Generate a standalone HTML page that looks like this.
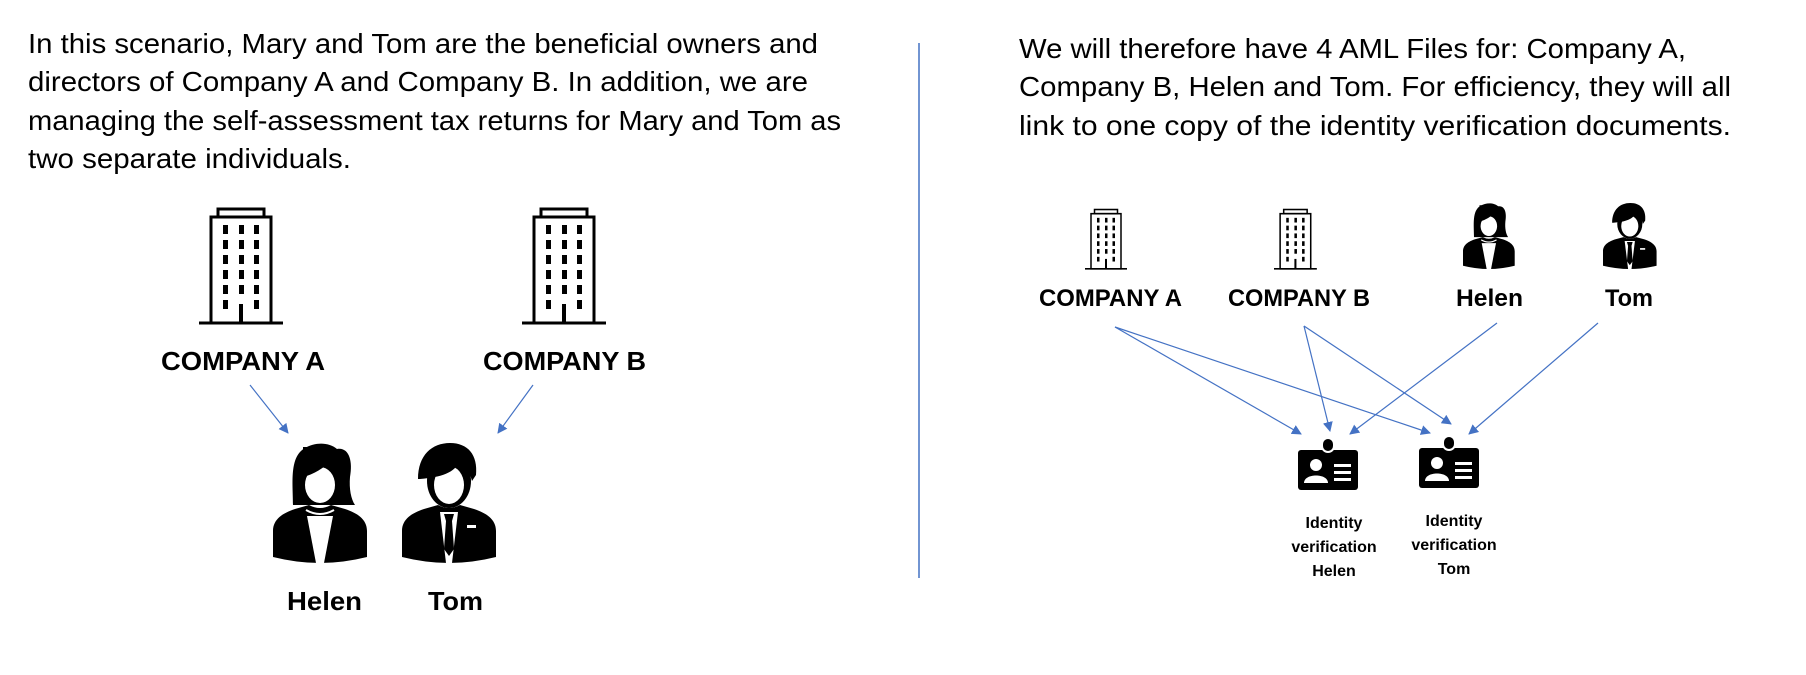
<!DOCTYPE html>
<html><head><meta charset="utf-8"><style>html,body{margin:0;padding:0;background:#fff}svg{display:block}</style></head>
<body>
<svg width="1806" height="675" viewBox="0 0 1806 675" xmlns="http://www.w3.org/2000/svg" xmlns:xlink="http://www.w3.org/1999/xlink" font-family="Liberation Sans, sans-serif">
<defs>
<marker id="ah" markerWidth="10" markerHeight="10" refX="9" refY="5" orient="auto" markerUnits="userSpaceOnUse">
<path d="M0,0 L10,5 L0,10 Z" fill="#4472C4"/>
</marker>
<g id="bld">
<rect x="19" y="1" width="46" height="8" fill="none" stroke="#000" stroke-width="3"/>
<rect x="12" y="9" width="60" height="106" fill="none" stroke="#000" stroke-width="3"/>
<line x1="0" y1="115" x2="84" y2="115" stroke="#000" stroke-width="3"/>
<g fill="#000">
<rect x="24" y="17" width="5" height="9"/><rect x="40" y="17" width="5" height="9"/><rect x="55" y="17" width="5" height="9"/>
<rect x="24" y="32" width="5" height="9"/><rect x="40" y="32" width="5" height="9"/><rect x="55" y="32" width="5" height="9"/>
<rect x="24" y="47" width="5" height="9"/><rect x="40" y="47" width="5" height="9"/><rect x="55" y="47" width="5" height="9"/>
<rect x="24" y="62" width="5" height="9"/><rect x="40" y="62" width="5" height="9"/><rect x="55" y="62" width="5" height="9"/>
<rect x="24" y="77" width="5" height="9"/><rect x="40" y="77" width="5" height="9"/><rect x="55" y="77" width="5" height="9"/>
<rect x="24" y="92" width="5" height="9"/><rect x="55" y="92" width="5" height="9"/>
<rect x="40" y="96" width="4" height="19"/>
</g>
</g>
<g id="helen">
<path d="M20,62 C20,40 16,14 32,5 C42,-1 56,-1 64,6 C76,4 80,18 77,34 C76,46 78,56 82,62 Z" fill="#000"/>
<ellipse cx="47" cy="42" rx="15" ry="18" fill="#fff"/>
<path d="M30,34 Q46,30 60,16 L60,4 L30,4 Z" fill="#000"/>
<path d="M0,114 L0,88 C0,76 10,70 22,66 L36,62 Q47,68 58,62 L72,66 C84,70 94,76 94,88 L94,114 Q70,120 47,120 Q24,120 0,114 Z" fill="#000"/>
<path d="M34,73 L60,73 L51,120 L43,120 Z" fill="#fff"/>
<path d="M33,67 Q47,75 61,67" fill="none" stroke="#fff" stroke-width="2"/>
</g>
<g id="tom">
<ellipse cx="47" cy="38" rx="22" ry="27" fill="#000"/>
<ellipse cx="47" cy="42" rx="15" ry="19" fill="#fff"/>
<path d="M16,36 C16,12 30,0 48,0 C66,0 76,12 74,32 L70,38 C67,26 62,22 58,18 C52,30 40,34 18,36 Z" fill="#000"/>
<path d="M0,114 L0,88 C0,76 10,70 22,66 L36,62 Q47,68 58,62 L72,66 C84,70 94,76 94,88 L94,114 Q70,120 47,120 Q24,120 0,114 Z" fill="#000"/>
<path d="M38,69 L56,69 L50,120 L44,120 Z" fill="#fff"/>
<path d="M42,71 L52,71 L50,78 L52,106 L47,113 L42,106 L44,78 Z" fill="#000"/>
<rect x="65" y="82" width="9" height="3" fill="#fff"/>
</g>
<g id="card">
<rect x="0" y="2" width="60" height="40" rx="3" fill="#000"/>
<rect x="24" y="-10" width="12" height="14" rx="6" fill="#000" stroke="#fff" stroke-width="2"/>
<circle cx="18" cy="17" r="6" fill="#fff"/>
<path d="M6,35 C6,25 30,25 30,35 Z" fill="#fff"/>
<rect x="36" y="16" width="17" height="3" fill="#fff"/>
<rect x="36" y="23" width="17" height="3" fill="#fff"/>
<rect x="36" y="30" width="17" height="3" fill="#fff"/>
</g>
</defs>

<g font-size="28" fill="#000">
<text x="28" y="53" textLength="790" lengthAdjust="spacingAndGlyphs">In this scenario, Mary and Tom are the beneficial owners and</text>
<text x="28" y="91" textLength="780" lengthAdjust="spacingAndGlyphs">directors of Company A and Company B.  In addition, we are</text>
<text x="28" y="130" textLength="813" lengthAdjust="spacingAndGlyphs">managing the self-assessment tax returns for Mary and Tom as</text>
<text x="28" y="168" textLength="323" lengthAdjust="spacingAndGlyphs">two separate individuals.</text>
</g>

<use xlink:href="#bld" x="199" y="208"/>
<use xlink:href="#bld" x="522" y="208"/>
<g font-size="26" font-weight="bold">
<text x="161" y="370" textLength="164" lengthAdjust="spacingAndGlyphs">COMPANY A</text>
<text x="483" y="370" textLength="163" lengthAdjust="spacingAndGlyphs">COMPANY B</text>
<text x="287" y="610" textLength="75" lengthAdjust="spacingAndGlyphs">Helen</text>
<text x="428" y="610" textLength="55" lengthAdjust="spacingAndGlyphs">Tom</text>
</g>
<g stroke="#4472C4" stroke-width="1.2" marker-end="url(#ah)">
<line x1="250" y1="385" x2="288" y2="433"/>
<line x1="533" y1="385" x2="498" y2="433"/>
</g>
<use xlink:href="#helen" x="273" y="443"/>
<use xlink:href="#tom" x="402" y="443"/>

<line x1="919" y1="43" x2="919" y2="578" stroke="#4472C4" stroke-width="1.5"/>

<g font-size="28" fill="#000">
<text x="1019" y="58" textLength="667" lengthAdjust="spacingAndGlyphs">We will therefore have 4 AML Files for: Company A,</text>
<text x="1019" y="96" textLength="712" lengthAdjust="spacingAndGlyphs">Company B, Helen and Tom.  For efficiency, they will all</text>
<text x="1019" y="135" textLength="712" lengthAdjust="spacingAndGlyphs">link to one copy of the identity verification documents.</text>
</g>

<g transform="translate(1085,209) scale(0.5,0.52)"><use xlink:href="#bld"/></g>
<g transform="translate(1274,209) scale(0.51,0.52)"><use xlink:href="#bld"/></g>
<g transform="translate(1463,203) scale(0.55,0.55)"><use xlink:href="#helen"/></g>
<g transform="translate(1603,203) scale(0.57,0.55)"><use xlink:href="#tom"/></g>

<g font-size="24" font-weight="bold">
<text x="1039" y="306" textLength="143" lengthAdjust="spacingAndGlyphs">COMPANY A</text>
<text x="1228" y="306" textLength="142" lengthAdjust="spacingAndGlyphs">COMPANY B</text>
<text x="1456" y="306" textLength="67" lengthAdjust="spacingAndGlyphs">Helen</text>
<text x="1605" y="306" textLength="48" lengthAdjust="spacingAndGlyphs">Tom</text>
</g>

<g stroke="#4472C4" stroke-width="1.2" marker-end="url(#ah)">
<line x1="1115" y1="327" x2="1301" y2="434"/>
<line x1="1115" y1="327" x2="1430" y2="433"/>
<line x1="1304" y1="326" x2="1330" y2="431"/>
<line x1="1304" y1="326" x2="1451" y2="424"/>
<line x1="1497" y1="323" x2="1350" y2="434"/>
<line x1="1598" y1="323" x2="1469" y2="434"/>
</g>

<use xlink:href="#card" x="1298" y="448"/>
<use xlink:href="#card" x="1419" y="446"/>

<g font-size="16" font-weight="bold" text-anchor="middle">
<text x="1334" y="528">Identity</text>
<text x="1334" y="552">verification</text>
<text x="1334" y="576">Helen</text>
<text x="1454" y="526">Identity</text>
<text x="1454" y="550">verification</text>
<text x="1454" y="574">Tom</text>
</g>
</svg>
</body></html>
